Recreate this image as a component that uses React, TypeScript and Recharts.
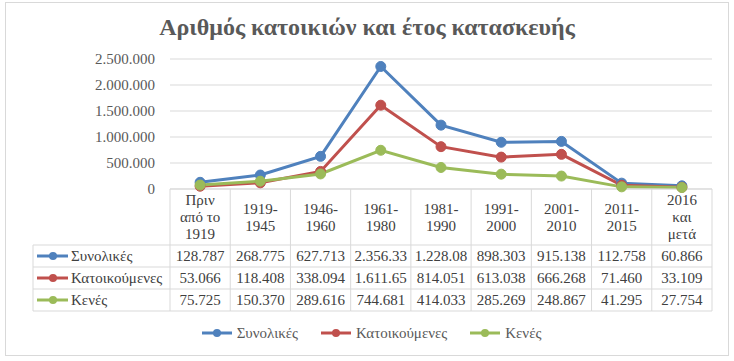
import React from 'react';
import { LineChart, Line, XAxis, YAxis, CartesianGrid } from 'recharts';

const periods = ['Πριν\nαπό το\n1919', '1919-\n1945', '1946-\n1960', '1961-\n1980', '1981-\n1990', '1991-\n2000', '2001-\n2010', '2011-\n2015', '2016\nκαι\nμετά'];
const total = [128787, 268775, 627713, 2356330, 1228080, 898303, 915138, 112758, 60866];
const occupied = [53066, 118408, 338094, 1611650, 814051, 613038, 666268, 71460, 33109];
const vacant = [75725, 150370, 289616, 744681, 414033, 285269, 248867, 41295, 27754];
const seriesKeys = ['total', 'occupied', 'vacant'];
const seriesNames = ['Συνολικές', 'Κατοικούμενες', 'Κενές'];
const seriesValues = [total, occupied, vacant];
const colors = ['#4f81bd', '#c0504d', '#9bbb59'];
const yTicks = [0, 500000, 1000000, 1500000, 2000000, 2500000];

const data = periods.map((p, i) => ({
  period: p,
  total: total[i],
  occupied: occupied[i],
  vacant: vacant[i],
}));

const W = 734;
const H = 361;
const PLOT_LEFT = 170;
const PLOT_RIGHT = 712;
const PLOT_TOP = 59;
const AXIS_Y = 189;
const TABLE_H = 122;
const HEADER_H = 56;
const ROW_H = 22;
const BAND = (PLOT_RIGHT - PLOT_LEFT) / periods.length;
const FONT = '"Liberation Serif", "DejaVu Serif", serif';
const GRID = '#d9d9d9';

// Greek style thousands separator
const fmt = (v: number) => String(Math.round(v)).replace(/\B(?=(\d{3})+(?!\d))/g, '.');
// Excel clips the text that does not fit in a cell
const cellText = (v: number) => fmt(v).slice(0, 8);

const TableTick = (props: any) => {
  const { x, y, index } = props;
  const left = x - BAND / 2;
  const lines = periods[index].split('\n');
  const top = y;
  const headerMid = top + HEADER_H / 2;
  return (
    <g>
      {index === 0 && (
        <g>
          <line x1={33} x2={33} y1={top + HEADER_H} y2={top + TABLE_H} stroke={GRID} />
          {[0, 1, 2, 3].map((r) => (
            <line key={r} x1={33} x2={PLOT_LEFT} y1={top + HEADER_H + r * ROW_H} y2={top + HEADER_H + r * ROW_H} stroke={GRID} />
          ))}
          {seriesNames.map((n, r) => {
            const cy = top + HEADER_H + r * ROW_H + ROW_H / 2;
            return (
              <g key={n}>
                <line x1={37} x2={68} y1={cy} y2={cy} stroke={colors[r]} strokeWidth={3} />
                <circle cx={53} cy={cy} r={4} fill={colors[r]} />
                <text x={71} y={cy} dominantBaseline="central" fontFamily={FONT} fontSize={15} fill="#404040">{n}</text>
              </g>
            );
          })}
        </g>
      )}
      <line x1={left} x2={left} y1={top} y2={top + TABLE_H} stroke={GRID} />
      {index === periods.length - 1 && (
        <line x1={left + BAND} x2={left + BAND} y1={top} y2={top + TABLE_H} stroke={GRID} />
      )}
      {[0, 1, 2, 3].map((r) => (
        <line key={r} x1={left} x2={left + BAND} y1={top + HEADER_H + r * ROW_H} y2={top + HEADER_H + r * ROW_H} stroke={GRID} />
      ))}
      {lines.map((l, k) => (
        <text key={k} x={x} y={headerMid + (k - (lines.length - 1) / 2) * 17} textAnchor="middle" dominantBaseline="central" fontFamily={FONT} fontSize={15} fill="#404040">{l}</text>
      ))}
      {seriesValues.map((vals, r) => (
        <text key={r} x={x} y={top + HEADER_H + r * ROW_H + ROW_H / 2} textAnchor="middle" dominantBaseline="central" fontFamily={FONT} fontSize={15} fill="#404040">{cellText(vals[index])}</text>
      ))}
    </g>
  );
};

export default function App() {
  return (
    <div style={{ position: 'absolute', left: 0, top: 0, width: W, height: H, background: '#fff', fontFamily: FONT }}>
      <div style={{ position: 'absolute', left: 5, top: 2, width: 722, height: 352, border: '1px solid #d9d9d9' }} />
      <div style={{ position: 'absolute', left: 0, top: 12, width: W, textAlign: 'center', fontSize: 24, fontWeight: 'bold', color: '#595959', lineHeight: '30px' }}>
        Αριθμός κατοικιών και έτος κατασκευής
      </div>
      <div style={{ position: 'absolute', left: 0, top: 0 }}>
        <LineChart width={W} height={H} data={data} margin={{ top: PLOT_TOP, right: W - PLOT_RIGHT, bottom: H - AXIS_Y - TABLE_H, left: 0 }}>
          <CartesianGrid vertical={false} stroke={GRID} />
          <XAxis dataKey="period" scale="band" interval={0} height={TABLE_H} tickLine={false} tickSize={0} tickMargin={0} axisLine={{ stroke: GRID }} tick={<TableTick />} />
          <YAxis width={PLOT_LEFT} domain={[0, 2500000]} ticks={yTicks} axisLine={false} tickLine={false} tickSize={0} tickMargin={15} tickFormatter={fmt} tick={{ fontFamily: FONT, fontSize: 15, fill: '#595959' }} />
          {seriesKeys.map((k, i) => (
            <Line key={k} dataKey={k} name={seriesNames[i]} stroke={colors[i]} strokeWidth={3} dot={{ r: 5, fill: colors[i], stroke: colors[i], strokeWidth: 1 }} isAnimationActive={false} />
          ))}
        </LineChart>
      </div>
      <div style={{ position: 'absolute', left: 4, top: 323, width: W, display: 'flex', justifyContent: 'center', gap: 22, fontSize: 15, color: '#595959', lineHeight: '20px' }}>
        {seriesNames.map((n, i) => (
          <div key={n} style={{ display: 'flex', alignItems: 'center' }}>
            <svg width={32} height={20} style={{ marginRight: 4 }}>
              <line x1={1} x2={31} y1={10} y2={10} stroke={colors[i]} strokeWidth={3} />
              <circle cx={16} cy={10} r={4} fill={colors[i]} />
            </svg>
            <span>{n}</span>
          </div>
        ))}
      </div>
    </div>
  );
}
